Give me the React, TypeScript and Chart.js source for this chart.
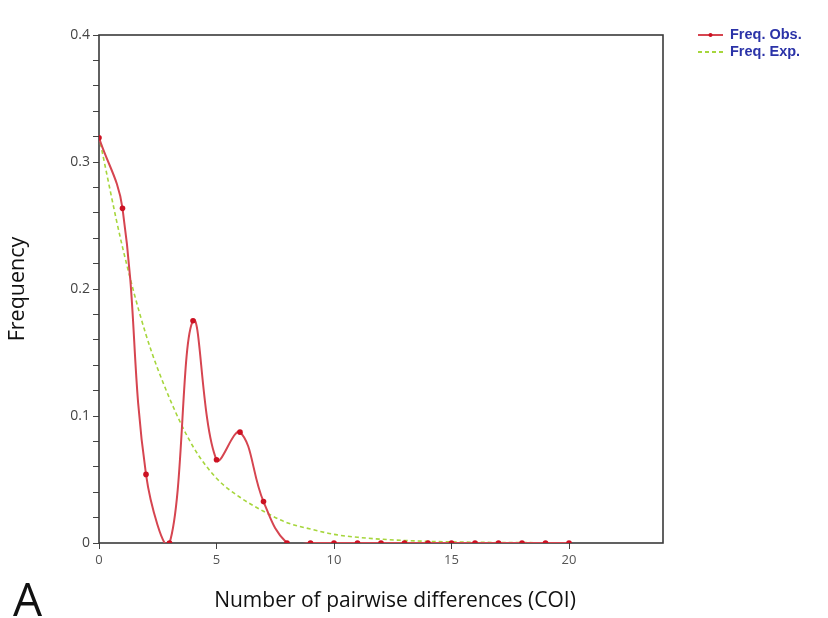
import React, { useEffect, useRef } from "react";
import { Chart, registerables } from "chart.js";

Chart.register(...registerables);

const diffs = [0, 1, 2, 3, 4, 5, 6, 7, 8, 9, 10, 11, 12, 13, 14, 15, 16, 17, 18, 19, 20];
const freqObs = [0.319, 0.2635, 0.054, 0, 0.175, 0.0655, 0.0873, 0.0326, 0, 0, 0, 0, 0, 0, 0, 0, 0, 0, 0, 0, 0];
const freqExp = [0.32, 0.233, 0.164, 0.114, 0.076, 0.051, 0.036, 0.025, 0.016, 0.011, 0.0068, 0.0045, 0.003, 0.002, 0.0013, 0.0009, 0.0006, 0.0004, 0.0003, 0.0002, 0.0001];
const yMajorLabels = ["0", "0.1", "0.2", "0.3", "0.4"];
const seriesNames = ["Freq. Obs.", "Freq. Exp."];
const xTitle = "Number of pairwise differences (COI)";
const yTitle = "Frequency";
const panelLabel = "A";

const RED_LINE = "#d64550";
const RED_POINT = "#cc1122";
const GREEN = "#a6d63c";
const LEGEND_BLUE = "#2b33a8";

const overlay = {
  id: "overlay",
  beforeDatasetsDraw(chart: any) {
    const { ctx, chartArea } = chart;
    ctx.save();
    ctx.strokeStyle = "#3a3a3a";
    ctx.lineWidth = 1.6;
    ctx.strokeRect(chartArea.left, chartArea.top, chartArea.right - chartArea.left, chartArea.bottom - chartArea.top);
    ctx.restore();
  },
  afterDraw(chart: any) {
    const { ctx } = chart;
    ctx.save();
    // legend
    const lx0 = 698, lx1 = 723;
    ctx.lineWidth = 2;
    ctx.strokeStyle = RED_LINE;
    ctx.beginPath(); ctx.moveTo(lx0, 35); ctx.lineTo(lx1, 35); ctx.stroke();
    ctx.fillStyle = RED_POINT;
    ctx.beginPath(); ctx.arc((lx0 + lx1) / 2, 35, 2, 0, Math.PI * 2); ctx.fill();
    ctx.strokeStyle = GREEN;
    ctx.setLineDash([4, 3]);
    ctx.beginPath(); ctx.moveTo(lx0, 52); ctx.lineTo(lx1, 52); ctx.stroke();
    ctx.setLineDash([]);
    ctx.fillStyle = LEGEND_BLUE;
    ctx.font = "bold 14.5px 'Liberation Sans', Arial, sans-serif";
    ctx.textBaseline = "middle";
    ctx.textAlign = "left";
    ctx.fillText(seriesNames[0], 730, 35);
    ctx.fillText(seriesNames[1], 730, 52);
    // x title
    ctx.fillStyle = "#111";
    ctx.font = "21px 'Open Sans', sans-serif";
    ctx.textAlign = "center";
    ctx.textBaseline = "alphabetic";
    ctx.fillText(xTitle, 395, 607);
    // panel label
    ctx.font = "46px 'Open Sans', sans-serif";
    ctx.textAlign = "left";
    ctx.fillText(panelLabel, 13, 616);
    ctx.restore();
  },
};

export default function App() {
  const ref = useRef<HTMLCanvasElement>(null);
  useEffect(() => {
    const chart = new Chart(ref.current!, {
      type: "line",
      data: {
        datasets: [
          {
            label: seriesNames[0],
            data: diffs.map((d, i) => ({ x: d, y: freqObs[i] })),
            borderColor: RED_LINE,
            backgroundColor: RED_POINT,
            borderWidth: 2,
            pointRadius: 2.8,
            pointBackgroundColor: RED_POINT,
            pointBorderWidth: 0,
            tension: 0.4,
            fill: false,
            order: 1,
          },
          {
            label: seriesNames[1],
            data: diffs.map((d, i) => ({ x: d, y: freqExp[i] })),
            borderColor: GREEN,
            borderWidth: 1.6,
            borderDash: [4, 3],
            pointRadius: 0,
            cubicInterpolationMode: "monotone",
            fill: false,
            order: 2,
          },
        ],
      },
      options: {
        animation: false,
        responsive: false,
        elements: { line: { capBezierPoints: false } },
        layout: { padding: { left: 0, right: 165, top: 35, bottom: 0 } },
        plugins: { legend: { display: false }, tooltip: { enabled: false } },
        scales: {
          x: {
            type: "linear",
            min: 0,
            max: 24,
            afterFit: (s: any) => { s.height = 75; },
            grid: { drawOnChartArea: false, drawTicks: true, tickLength: 6, color: "#444" },
            border: { display: false },
            ticks: {
              stepSize: 5,
              includeBounds: false,
              autoSkip: false,
              maxRotation: 0,
              padding: 3,
              color: "#555",
              font: { family: "'Open Sans', sans-serif", size: 13 },
            },
          },
          y: {
            min: 0,
            max: 0.4,
            afterFit: (s: any) => { s.width = 99; },
            grid: { drawOnChartArea: false, drawTicks: true, tickLength: 6, color: "#444" },
            border: { display: false },
            title: {
              display: true,
              text: yTitle,
              color: "#111",
              font: { family: "'Open Sans', sans-serif", size: 21.5 },
              padding: { top: 5, bottom: 0 },
            },
            ticks: {
              stepSize: 0.02,
              autoSkip: false,
              padding: 3,
              color: "#444",
              font: { family: "'Open Sans', sans-serif", size: 14 },
              callback: (v: any) => {
                const t = Number(v) * 10;
                if (Math.abs(t - Math.round(t)) < 1e-6) return yMajorLabels[Math.round(t)];
                return "";
              },
            },
          },
        },
      },
      plugins: [overlay],
    });
    return () => chart.destroy();
  }, []);
  return (
    <div style={{ position: "fixed", left: 0, top: 0, width: 828, height: 618, background: "#fff" }}>
      <canvas ref={ref} width={828} height={618} />
    </div>
  );
}
